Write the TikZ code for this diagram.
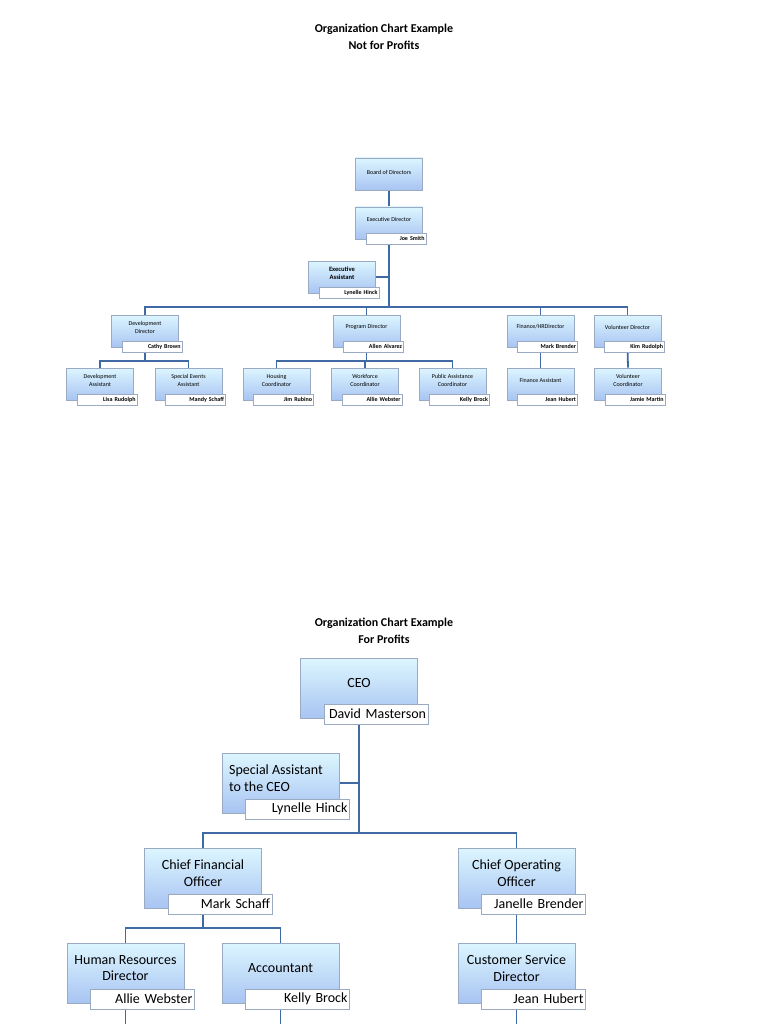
\documentclass[tikz,border=0pt]{standalone}
\usepackage{fontspec}
\setmainfont{Carlito}
\usetikzlibrary{backgrounds}
\definecolor{ln}{HTML}{3F6AA3}
\definecolor{bd}{HTML}{9AAAC2}
\tikzset{
 x=1pt,y=-1pt,
 boxs/.style={draw=bd,line width=0.8pt,top color=blue!4!white!90!cyan,bottom color={rgb,255:red,168;green,196;blue,242},inner sep=0pt},
 tbox/.style={boxs,minimum width=67pt,minimum height=32pt},
 bbox/.style={boxs,minimum width=117pt,minimum height=60pt},
 namebox/.style={draw=bd,fill=white,line width=0.6pt,inner sep=0pt,align=right},
 tname/.style={namebox,minimum width=60pt,minimum height=11pt,text width=57pt,font=\fontsize{6}{7}\selectfont\bfseries},
 bname/.style={namebox,minimum width=104pt,minimum height=20pt,text width=100pt,font=\fontsize{14}{16}\selectfont},
 ttxt/.style={inner sep=0pt,align=center,font=\fontsize{6}{8}\selectfont},
 btxt/.style={inner sep=0pt,align=center,font=\fontsize{14}{16.5}\selectfont},
 conn/.style={draw=ln,line width=1.8pt},
 ttl/.style={inner sep=0pt,align=center,font=\fontsize{12}{17}\selectfont\bfseries}
}
\newcommand\topbox[5]{%
 \node[tbox] (#1) at ({#2},{#3+16}) {};
 \node[ttxt] (#1t) at ({#2},{#3+12}) {#4};
 \node[tname] (#1n) at ({#2+7},{#3+31.5}) {#5};}
\newcommand\botbox[5]{%
 \node[bbox] (#1) at ({#2},{#3+30}) {};
 \node[btxt] (#1t) at ({#2},{#3+25}) {#4};
 \node[bname] (#1n) at ({#2+17},{#3+56}) {#5};}
\begin{document}
\begin{tikzpicture}
\useasboundingbox (0,0) rectangle (768,1024);
\node[ttl] (t1) at (384,37) {Organization Chart Example\\Not for Profits};
\node[ttl] (t2) at (384,631) {Organization Chart Example\\For Profits};
% top chart
\node[tbox] (bod) at (389,174) {};
\node[ttxt] (bodt) at (389,172) {Board of Directors};
\topbox{ed}{389}{207}{Executive Director}{Joe Smith}
\topbox{ea}{342}{261}{\bfseries\fontsize{6.6}{8}\selectfont Executive\\\bfseries\fontsize{6.6}{8}\selectfont Assistant}{Lynelle Hinck}
\topbox{dd}{145}{315}{Development\\Director}{Cathy Brown}
\topbox{pd}{366.5}{315}{Program Director}{Allen Alvarez}
\topbox{fd}{540.5}{315}{Finance/HRDirector}{Mark Brender}
\topbox{vd}{627.5}{315}{Volunteer Director}{Kim Rudolph}
\topbox{da}{100}{368}{Development\\Assistant}{Lisa Rudolph}
\topbox{se}{188.5}{368}{Special Events\\Assistant}{Mandy Schaff}
\topbox{hc}{276.5}{368}{Housing\\Coordinator}{Jim Rubino}
\topbox{wc}{365}{368}{Workforce\\Coordinator}{Allie Webster}
\topbox{pa}{452.5}{368}{Public Assistance\\Coordinator}{Kelly Brock}
\topbox{fa}{540.5}{368}{Finance Assistant}{Jean Hubert}
\topbox{vc}{628}{368}{Volunteer\\Coordinator}{Jamie Martin}
\coordinate (b1) at (389,307);
\coordinate (b2) at (145,361);
\coordinate (b3) at (366.5,361);
% bottom chart
\botbox{ceo}{359}{658}{CEO}{David Masterson}
\node[bbox] (sa) at (280.5,783) {};
\node[btxt,align=left] (sat) at (276,778) {Special Assistant\\to the CEO};
\node[bname] (san) at (297.5,809) {Lynelle Hinck};
\botbox{cfo}{203}{848}{Chief Financial\\Officer}{Mark Schaff}
\botbox{coo}{516.5}{848}{Chief Operating\\Officer}{Janelle Brender}
\botbox{hr}{125.5}{943}{Human Resources\\Director}{Allie Webster}
\botbox{acc}{280.5}{943}{Accountant}{Kelly Brock}
\botbox{cs}{516.5}{943}{Customer Service\\Director}{Jean Hubert}
\coordinate (c1) at (359,833);
\coordinate (c2) at (203,928);
\coordinate (e1) at (124,1024);
\coordinate (e2) at (281,1024);
\coordinate (e3) at (517,1024);
\begin{scope}[on background layer]
\draw[conn] (bod.south) -- (ed.north);
\draw[conn] (ed.south) -- (b1);
\draw[conn] (ea.east) -- (ea.east -| b1);
\draw[conn] (dd.north) |- (b1) -| (vd.north);
\draw[conn] (pd.north) -- (pd.north |- b1);
\draw[conn] (fd.north) -- (fd.north |- b1);
\draw[conn] (dd.south) -- (b2);
\draw[conn] (da.north) |- (b2) -| (se.north);
\draw[conn] (pd.south) -- (b3);
\draw[conn] (hc.north) |- (b3) -| (pa.north);
\draw[conn] (wc.north) -- (wc.north |- b3);
\draw[conn] (fd.south) -- (fa.north);
\draw[conn] (vd.south) -- (vc.north);
\draw[conn] (ceo.south) -- (c1);
\draw[conn] (sa.east) -- (sa.east -| c1);
\draw[conn] (cfo.north) |- (c1) -| (coo.north);
\draw[conn] (cfo.south) -- (c2);
\draw[conn] (hr.north) |- (c2) -| (acc.north);
\draw[conn] (coo.south) -- (cs.north);
\draw[conn] (hr.south) -- (hr.south |- e1);
\draw[conn] (acc.south) -- (acc.south |- e2);
\draw[conn] (cs.south) -- (cs.south |- e3);
\end{scope}
\end{tikzpicture}
\end{document}
